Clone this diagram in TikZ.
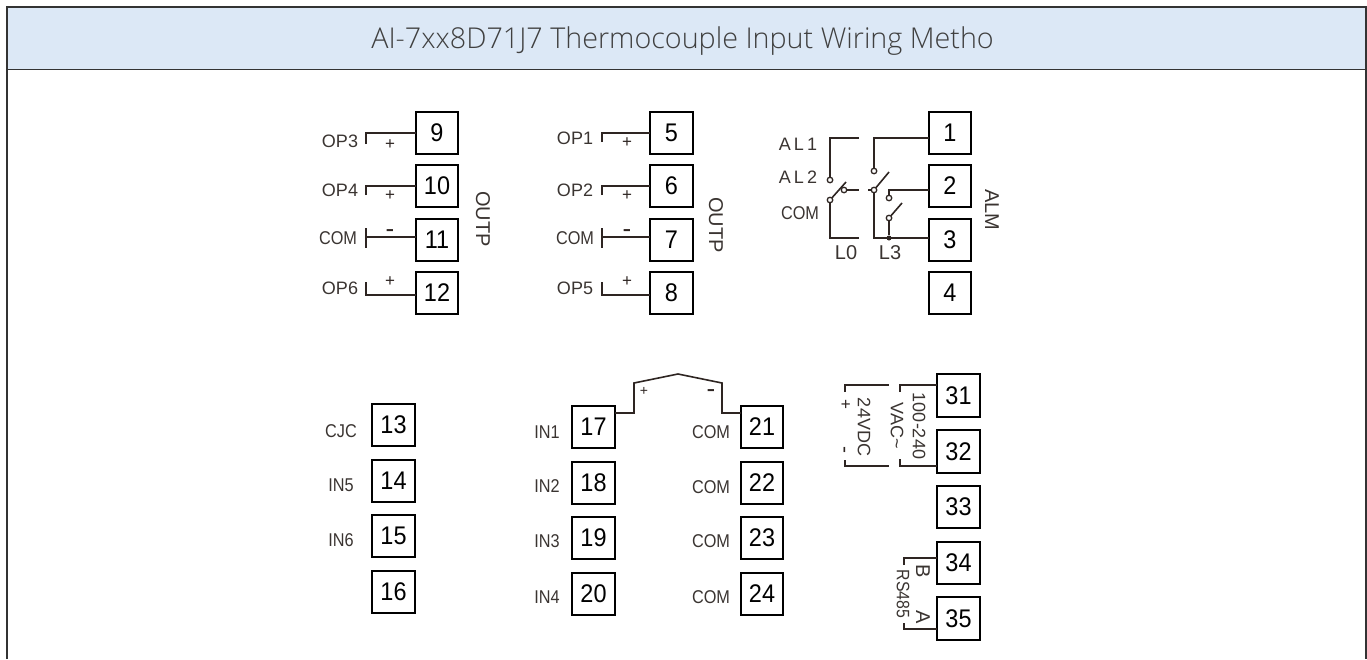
\documentclass[tikz,border=0pt]{standalone}
\usepackage{fontspec}
\setmainfont{Liberation Sans}
\newfontfamily\termfont[FakeStretch=0.92]{Liberation Sans}
\newfontfamily\comfont[FakeStretch=0.88]{Liberation Sans}
\newfontfamily\titlefont{Open Sans Light}
\usetikzlibrary{positioning}
\definecolor{headblue}{HTML}{DCE8F6}
\definecolor{wirecol}{HTML}{2E2522}
\definecolor{textcol}{HTML}{3A3431}
\tikzset
{
    terminal/.style = {rectangle, draw=black, line width=1.8pt, minimum size=42.5pt, inner sep=0pt, outer sep=0pt, font=\termfont\fontsize{25.5}{25.5}\selectfont},
    pinlabel/.style = {inner sep=0pt, text=textcol, font=\fontsize{18}{18}\selectfont},
    comlabel/.style = {inner sep=0pt, text=textcol, font=\comfont\fontsize{18.5}{18.5}\selectfont},
    sidelabel/.style = {pinlabel, rotate=-90},
    sign/.style     = {inner sep=0pt, text=wirecol, font=\fontsize{17}{17}\selectfont},
    minus/.style    = {inner sep=0pt, yshift=-4.5pt, text=wirecol, font=\fontsize{26}{26}\selectfont},
    wire/.style     = {draw=wirecol, line width=1.6pt},
    contact/.style  = {circle, draw=wirecol, fill=white, line width=1.3pt, minimum size=5.5pt, inner sep=0pt, outer sep=0pt},
    solder/.style   = {circle, fill=wirecol, minimum size=5pt, inner sep=0pt}
}
\begin{document}
\begin{tikzpicture}[x=1pt,y=-1pt]
\useasboundingbox (0,0) rectangle (1367,659);
% header and frame
\fill [headblue] (7,7) rectangle (1366,69);
\draw [black!80, line width=1.6pt] (7,659) -- (7,7) -- (1366,7) -- (1366,659);
\draw [black!80, line width=1.6pt] (7,69.5) -- (1366,69.5);
\node [inner sep=0pt, anchor=base, text=black!75, font=\titlefont\fontsize{28.7}{28.7}\selectfont] at (682.5,48) (title) {AI-7xx8D71J7 Thermocouple Input Wiring Metho};
% output block 9-12
\node [terminal] at (437,133) (t9) {9};
\node [terminal] at (437,186) (t10) {10};
\node [terminal] at (437,240) (t11) {11};
\node [terminal] at (437,293) (t12) {12};
\node [pinlabel] at (340,141) (op3) {OP3};
\node [pinlabel] at (340,190) (op4) {OP4};
\node [comlabel] at (338,238) (com11) {COM};
\node [pinlabel] at (340,288) (op6) {OP6};
\node [sidelabel, font=\fontsize{20}{20}\selectfont] at (483,219) (outpa) {OUTP};
\coordinate (e9) at (366,144);
\coordinate (e10) at (366,195);
\coordinate (e11) at (366,237);
\coordinate (e11a) at (366,228);
\coordinate (e11b) at (366,248);
\coordinate (e12) at (366,282);
\draw [wire] (e9) |- (t9.west);
\draw [wire] (e10) |- (t10.west);
\draw [wire] (e11) -- (e11 -| t11.west);
\draw [wire] (e11a) -- (e11b);
\draw [wire] (e12) |- ([yshift=-2pt]t12.west);
\node [sign] at (390,145) (p9) {+};
\node [sign] at (390,196) (p10) {+};
\node [minus] at (390,229) (m11) {-};
\node [sign] at (390,282) (p12) {+};
% output block 5-8
\node [terminal] at (671.5,133) (t5) {5};
\node [terminal] at (671.5,186) (t6) {6};
\node [terminal] at (671.5,240) (t7) {7};
\node [terminal] at (671.5,293) (t8) {8};
\node [pinlabel] at (575,138) (op1) {OP1};
\node [pinlabel] at (575,190) (op2) {OP2};
\node [comlabel] at (575,238) (com7) {COM};
\node [pinlabel] at (575,288) (op5) {OP5};
\node [sidelabel, font=\fontsize{20}{20}\selectfont] at (716,225) (outpb) {OUTP};
\coordinate (e5) at (602,142);
\coordinate (e6) at (602,195);
\coordinate (e7) at (602,237);
\coordinate (e7a) at (602,228);
\coordinate (e7b) at (602,248);
\coordinate (e8) at (602,282);
\draw [wire] (e5) |- (t5.west);
\draw [wire] (e6) |- (t6.west);
\draw [wire] (e7) -- (e7 -| t7.west);
\draw [wire] (e7a) -- (e7b);
\draw [wire] (e8) |- ([yshift=-2pt]t8.west);
\node [sign] at (627,143) (p5) {+};
\node [sign] at (627,196) (p6) {+};
\node [minus] at (627,229) (m7) {-};
\node [sign] at (627,282) (p8) {+};
% alarm block 1-4
\node [terminal] at (950,133) (t1) {1};
\node [terminal] at (950,186) (t2) {2};
\node [terminal] at (950,240) (t3) {3};
\node [terminal] at (950,293) (t4) {4};
\node [pinlabel] at (798,144) (al1) {A\,L\,1};
\node [pinlabel] at (798,177) (al2) {A\,L\,2};
\node [comlabel] at (800,213) (comal) {COM};
\node [pinlabel, font=\fontsize{20}{20}\selectfont] at (846,253) (l0) {L0};
\node [pinlabel, font=\fontsize{20}{20}\selectfont] at (890,253) (l3) {L3};
\node [sidelabel, font=\fontsize{20}{20}\selectfont] at (992,210) (alm) {ALM};
\node [contact] at (830,180) (c1) {};
\node [contact] at (830,200) (c2) {};
\node [contact] at (844,190) (c3) {};
\node [contact] at (874,171) (c4) {};
\node [contact] at (874,190) (c5) {};
\node [contact] at (889,198) (c6) {};
\node [contact] at (889,218) (c7) {};
\node [solder] at (889,238) (j3) {};
\coordinate (g1) at (859,138);
\coordinate (g2) at (859,190);
\coordinate (g3) at (859,238);
\coordinate (g4) at (868,190);
\coordinate (b1) at (846,182);
\coordinate (b2) at (889,172);
\coordinate (b3) at (902,203);
\draw [wire] (g1) -| (c1);
\draw [wire] (g3) -| (c2);
\draw [wire] (c2) -- (b1);
\draw [wire] (c3) -- (g2);
\draw [wire] (g4) -- (c5);
\draw [wire] (t1.west |- g1) -| (c4);
\draw [wire] (c5) -- (b2);
\draw [wire] (c5) |- (t3.west |- j3);
\draw [wire] (c6) |- (t2.west |- c5);
\draw [wire] (c7) -- (b3);
\draw [wire] (c7) -- (j3);
% sensor block 13-16
\node [terminal] at (393.5,425) (t13) {13};
\node [terminal] at (393.5,481) (t14) {14};
\node [terminal] at (393.5,536) (t15) {15};
\node [terminal] at (393.5,592) (t16) {16};
\node [comlabel] at (341,431) (cjc) {CJC};
\node [comlabel] at (341,485) (in5) {IN5};
\node [comlabel] at (341,540) (in6) {IN6};
% input block 17-24
\node [terminal] at (593.5,427) (t17) {17};
\node [terminal] at (593.5,483) (t18) {18};
\node [terminal] at (593.5,538) (t19) {19};
\node [terminal] at (593.5,594) (t20) {20};
\node [terminal] at (762,427) (t21) {21};
\node [terminal] at (762,483) (t22) {22};
\node [terminal] at (762,538) (t23) {23};
\node [terminal] at (762,594) (t24) {24};
\node [comlabel] at (547,432) (in1) {IN1};
\node [comlabel] at (547,486) (in2) {IN2};
\node [comlabel] at (547,541) (in3) {IN3};
\node [comlabel] at (547,597) (in4) {IN4};
\node [comlabel] at (711,432) (com21) {COM};
\node [comlabel] at (711,487) (com22) {COM};
\node [comlabel] at (711,541) (com23) {COM};
\node [comlabel] at (711,597) (com24) {COM};
\coordinate (k1) at (634,413);
\coordinate (k2) at (634,383);
\coordinate (k3) at (678,374);
\coordinate (k4) at (722,383);
\coordinate (k5) at (722,413);
\draw [wire] (k1 -| t17.east) -- (k1) -- (k2) -- (k3) -- (k4) -- (k5) -- (k5 -| t21.west);
\node [sign, font=\fontsize{14}{14}\selectfont] at (644,391) (p17) {+};
\node [minus] at (711,389) (m21) {-};
% supply and bus block 31-35
\node [terminal] at (958.5,395.5) (t31) {31};
\node [terminal] at (958.5,451.5) (t32) {32};
\node [terminal] at (958.5,507) (t33) {33};
\node [terminal] at (958.5,563) (t34) {34};
\node [terminal] at (958.5,618.5) (t35) {35};
\coordinate (v1) at (900,392);
\coordinate (v2) at (900,385);
\coordinate (v3) at (900,459);
\coordinate (v4) at (900,466);
\coordinate (d1) at (845,392);
\coordinate (d2) at (889,385);
\coordinate (d3) at (845,460);
\coordinate (d4) at (889,466);
\coordinate (r1) at (904,565);
\coordinate (r2) at (904,558);
\coordinate (r3) at (904,623);
\coordinate (r4) at (904,629);
\draw [wire] (v1) -- (v2) -- (v2 -| t31.west);
\draw [wire] (v3) -- (v4) -- (v4 -| t32.west);
\draw [wire] (d1) |- (d2);
\draw [wire] (d3) |- (d4);
\draw [wire] (r1) -- (r2) -- (r2 -| t34.west);
\draw [wire] (r3) -- (r4) -- (r4 -| t35.west);
\node [sidelabel] at (919,426) (vrange) {100-240};
\node [sidelabel] at (897,426) (vac) {VAC\textasciitilde};
\node [sidelabel] at (864,427) (vdc) {24VDC};
\node [sign, rotate=-90] at (845,404) (pdc) {+};
\node [sign, rotate=-90, font=\fontsize{21}{21}\selectfont] at (842,450) (mdc) {-};
\node [sidelabel, font=\fontsize{20}{20}\selectfont] at (923,571) (lb) {B};
\node [sidelabel, font=\fontsize{20}{20}\selectfont] at (923,617) (la) {A};
\node [sidelabel, font=\comfont\fontsize{18}{18}\selectfont] at (903,594) (rs) {RS485};
\end{tikzpicture}
\end{document}
